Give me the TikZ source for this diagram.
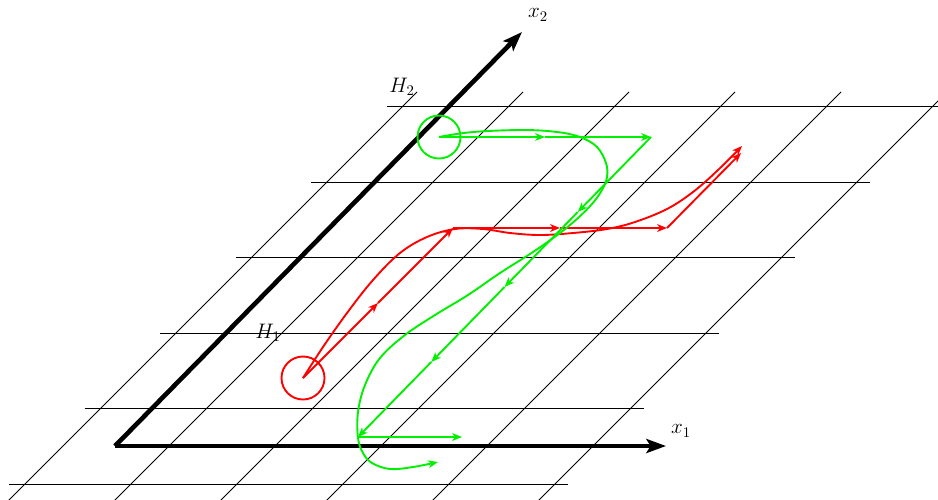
\documentclass[tikz,border=0pt]{standalone}
\usepackage{fix-cm}
\usetikzlibrary{arrows.meta}
\definecolor{lime}{RGB}{0,240,0}
\begin{document}
\begin{tikzpicture}[x=0.714pt,y=-0.714pt,
  gridline/.style={line width=0.6pt},
  axisline/.style={line width=3.3pt,-{Stealth[length=14pt,width=10pt,inset=3pt]}},
  traj/.style={line width=1.35pt},
  arr/.style={traj,-{Stealth[length=7pt,width=5.5pt,inset=2pt]}},
  lab/.style={inner sep=0pt,font=\fontsize{15}{18}\selectfont}]
\useasboundingbox (0,0) rectangle (938,499);
\clip (0,0) rectangle (938,499);
% grid
\foreach \k in {0,...,5}
  \draw[gridline] ({9+75.6*\k},{484.5-75.6*\k}) -- ++(559,0);
\foreach \j in {0,...,5}
  \draw[gridline] ({-5+106*\j},514) -- ({417+106*\j},92);
% axes
\coordinate (O) at (115,446);
\coordinate (X1) at (666,446);
\coordinate (X2) at (522,32);
\draw[axisline] (O) -- (X1);
\draw[axisline] (O) -- (X2);
\node[lab] (x1lab) at (681,431) {$x_1$};
\node[lab] (x2lab) at (538,15) {$x_2$};
\node[lab] (h1lab) at (268,333) {$H_1$};
\node[lab] (h2lab) at (402,87) {$H_2$};
% red
\coordinate (R0) at (303,378);
\coordinate (Ra) at (378,303);
\coordinate (R1) at (453,228);
\coordinate (Rb) at (560,228);
\coordinate (R2) at (667,228);
\coordinate (R3) at (741,153);
\draw[traj,red] (R0) circle[radius=21.5];
\draw[arr,red] (R0) -- (Ra);
\draw[arr,red] (Ra) -- (R1);
\draw[arr,red] (R1) -- (Rb);
\draw[arr,red] (Rb) -- (R2);
\draw[arr,red] (R2) -- (R3);
\draw[arr,red] plot[smooth,tension=0.6] coordinates {(303,378) (323,347) (347,313) (373,280) (400,253) (427,237) (455,229) (483,229) (510,233) (540,235) (573,233) (607,229) (635,222) (667,209) (693,192) (717,171) (742,146)};
% green
\coordinate (G0) at (439,137);
\coordinate (Ga) at (545,137);
\coordinate (G1) at (651,137);
\coordinate (Gb) at (577.75,212);
\coordinate (G2) at (504.5,287);
\coordinate (Gc) at (431.25,362);
\coordinate (G3) at (358,437);
\coordinate (G4) at (462,437);
\draw[traj,lime] (G0) circle[radius=21.5];
\draw[arr,lime] (G0) -- (Ga);
\draw[arr,lime] (Ga) -- (G1);
\draw[arr,lime] (G1) -- (Gb);
\draw[arr,lime] (Gb) -- (G2);
\draw[arr,lime] (G2) -- (Gc);
\draw[arr,lime] (Gc) -- (G3);
\draw[arr,lime] (G3) -- (G4);
\draw[arr,lime] plot[smooth,tension=0.6] coordinates {(439,137) (473,132) (523,130) (557,132) (580,137) (597,147) (606,163) (607,177) (602,190) (592,204) (578,218) (560,233) (533,252) (500,273) (468,295) (435,315) (405,335) (380,358) (365,385) (358,412) (358,438) (363,453) (372,463) (390,469) (413,467) (438,462)};
\end{tikzpicture}
\end{document}
